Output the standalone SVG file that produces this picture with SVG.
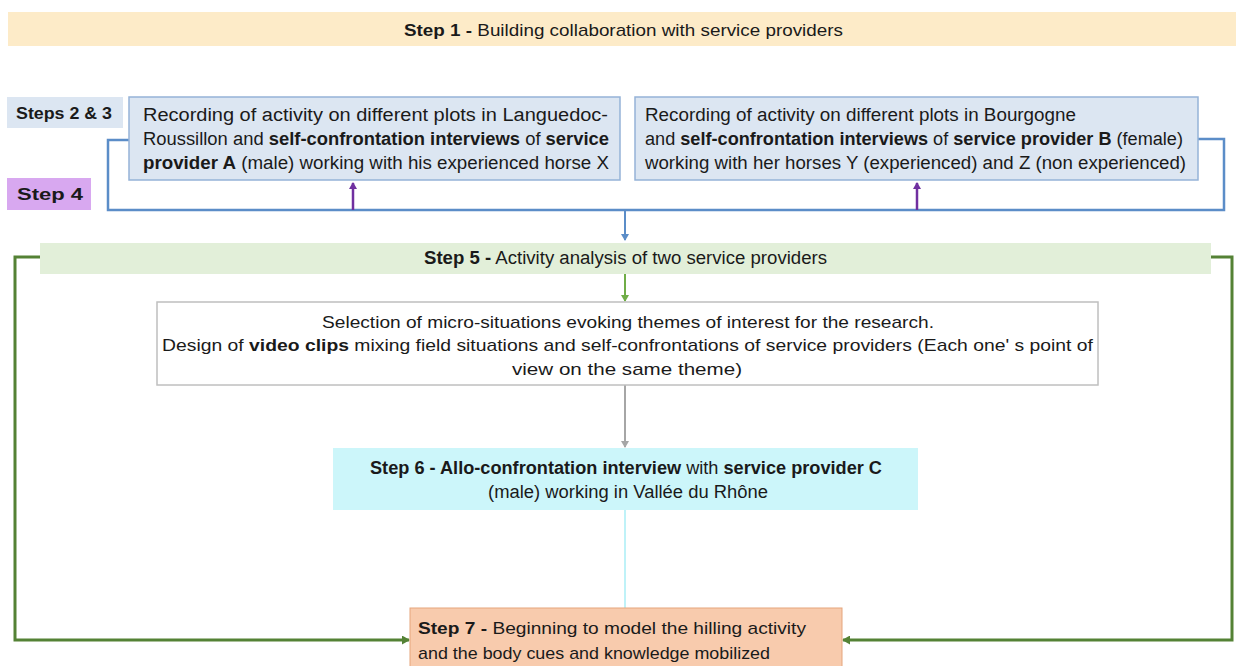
<svg xmlns="http://www.w3.org/2000/svg" width="1236" height="666" viewBox="0 0 1236 666">
<style>
text{font-family:"Liberation Sans",Arial,sans-serif;fill:#1a1a1a}
.t16{font-size:16px}
.t17{font-size:17px}
.t18{font-size:18px}
.b{font-weight:bold}
.lab{font-size:16px;font-weight:bold}
</style>
<defs>
<marker id="aBlue" markerWidth="8" markerHeight="8" refX="6" refY="4" orient="auto" markerUnits="userSpaceOnUse"><path d="M0,0 L7,4 L0,8 z" fill="#5b8dc8"/></marker>
<marker id="aPurple" markerWidth="8" markerHeight="8" refX="6" refY="4" orient="auto" markerUnits="userSpaceOnUse"><path d="M0,0 L7,4 L0,8 z" fill="#7030a0"/></marker>
<marker id="aGreen" markerWidth="8" markerHeight="8" refX="6" refY="4" orient="auto" markerUnits="userSpaceOnUse"><path d="M0,0 L7,4 L0,8 z" fill="#70ad47"/></marker>
<marker id="aDkGreen" markerWidth="9" markerHeight="9" refX="7" refY="4.5" orient="auto" markerUnits="userSpaceOnUse"><path d="M0,0 L8,4.5 L0,9 z" fill="#548235"/></marker>
<marker id="aGrey" markerWidth="8" markerHeight="8" refX="6" refY="4" orient="auto" markerUnits="userSpaceOnUse"><path d="M0,0 L7,4 L0,8 z" fill="#a6a6a6"/></marker>
</defs>
<rect width="1236" height="666" fill="#ffffff"/>

<g id="connectors" fill="none">
<path d="M129,140 H108 V210 H1224 V139 H1198" stroke="#5b8dc8" stroke-width="2.5"/>
<line x1="625" y1="210" x2="625" y2="240" stroke="#5b8dc8" stroke-width="2" marker-end="url(#aBlue)"/>
<line x1="353" y1="210" x2="353" y2="183" stroke="#7030a0" stroke-width="2.5" marker-end="url(#aPurple)"/>
<line x1="917" y1="210" x2="917" y2="183" stroke="#7030a0" stroke-width="2.5" marker-end="url(#aPurple)"/>
<line x1="625" y1="274" x2="625" y2="301" stroke="#70ad47" stroke-width="2" marker-end="url(#aGreen)"/>
<line x1="625" y1="385" x2="625" y2="447" stroke="#a6a6a6" stroke-width="2" marker-end="url(#aGrey)"/>
<line x1="625" y1="510" x2="625" y2="608" stroke="#bff2f8" stroke-width="2"/>
<path d="M40,257 H15 V640 H409" stroke="#548235" stroke-width="3" marker-end="url(#aDkGreen)"/>
<path d="M1211,257 H1232 V640 H843" stroke="#548235" stroke-width="3" marker-end="url(#aDkGreen)"/>
</g>

<g id="step1">
<rect x="8" y="12" width="1228" height="34" fill="#fdebc8"/>
<text x="404" y="36" class="t17" textLength="439" lengthAdjust="spacingAndGlyphs"><tspan class="b">Step 1 -</tspan> Building collaboration with service providers</text>
</g>

<g id="steps23-label">
<rect x="7" y="97" width="116" height="31" fill="#dce6f2"/>
<text x="16" y="119" class="lab" textLength="96" lengthAdjust="spacingAndGlyphs">Steps 2 &amp; 3</text>
</g>

<g id="step4-label">
<rect x="7" y="178" width="84" height="32" fill="#d8a8f0"/>
<text x="17" y="200" class="lab" textLength="66" lengthAdjust="spacingAndGlyphs">Step 4</text>
</g>

<g id="boxA">
<rect x="129" y="97" width="491" height="83" fill="#dce6f2" stroke="#95b3d7" stroke-width="1.5"/>
<text x="143" y="121" class="t18" textLength="465" lengthAdjust="spacingAndGlyphs">Recording of activity on different plots in Languedoc-</text>
<text x="143" y="145" class="t18" textLength="466" lengthAdjust="spacingAndGlyphs">Roussillon and <tspan class="b">self-confrontation interviews</tspan> of <tspan class="b">service</tspan></text>
<text x="143" y="169" class="t18" textLength="466" lengthAdjust="spacingAndGlyphs"><tspan class="b">provider A</tspan> (male) working with his experienced  horse X</text>
</g>

<g id="boxB">
<rect x="635" y="97" width="563" height="83" fill="#dce6f2" stroke="#95b3d7" stroke-width="1.5"/>
<text x="645" y="121" class="t18" textLength="431" lengthAdjust="spacingAndGlyphs">Recording of activity on different plots in Bourgogne</text>
<text x="645" y="145" class="t18" textLength="538" lengthAdjust="spacingAndGlyphs">and <tspan class="b">self-confrontation interviews</tspan> of <tspan class="b">service provider B</tspan> (female)</text>
<text x="645" y="169" class="t18" textLength="541" lengthAdjust="spacingAndGlyphs">working with her horses Y (experienced)  and Z (non experienced)</text>
</g>

<g id="step5">
<rect x="40" y="243" width="1171" height="31" fill="#e2efd9"/>
<text x="424" y="264" class="t18" textLength="403" lengthAdjust="spacingAndGlyphs"><tspan class="b">Step 5 -</tspan> Activity analysis of two service providers</text>
</g>

<g id="selection">
<rect x="157" y="302" width="941" height="83" fill="#ffffff" stroke="#bfbfbf" stroke-width="1.5"/>
<text x="322" y="328" class="t17" textLength="612" lengthAdjust="spacingAndGlyphs">Selection of micro-situations evoking themes of interest for the research.</text>
<text x="162" y="351" class="t17" textLength="931" lengthAdjust="spacingAndGlyphs">Design of <tspan class="b">video clips</tspan> mixing field situations and self-confrontations of service providers (Each one' s point of</text>
<text x="512" y="375" class="t17" textLength="230" lengthAdjust="spacingAndGlyphs">view on the same theme)</text>
</g>

<g id="step6">
<rect x="333" y="448" width="585" height="62" fill="#ccf6fa"/>
<text x="370" y="474" class="t18" textLength="512" lengthAdjust="spacingAndGlyphs"><tspan class="b">Step 6 - Allo-confrontation interview</tspan> with <tspan class="b">service provider C</tspan></text>
<text x="488" y="498" class="t18" textLength="280" lengthAdjust="spacingAndGlyphs">(male) working in Vallée du Rhône</text>
</g>

<g id="step7">
<rect x="410" y="608" width="432" height="60" fill="#f8cbad" stroke="#e5a57c" stroke-width="1"/>
<text x="418" y="634" class="t17" textLength="388" lengthAdjust="spacingAndGlyphs"><tspan class="b">Step 7 -</tspan> Beginning to model the hilling activity</text>
<text x="418" y="659" class="t17" textLength="352" lengthAdjust="spacingAndGlyphs">and the body cues and knowledge mobilized</text>
</g>
</svg>
